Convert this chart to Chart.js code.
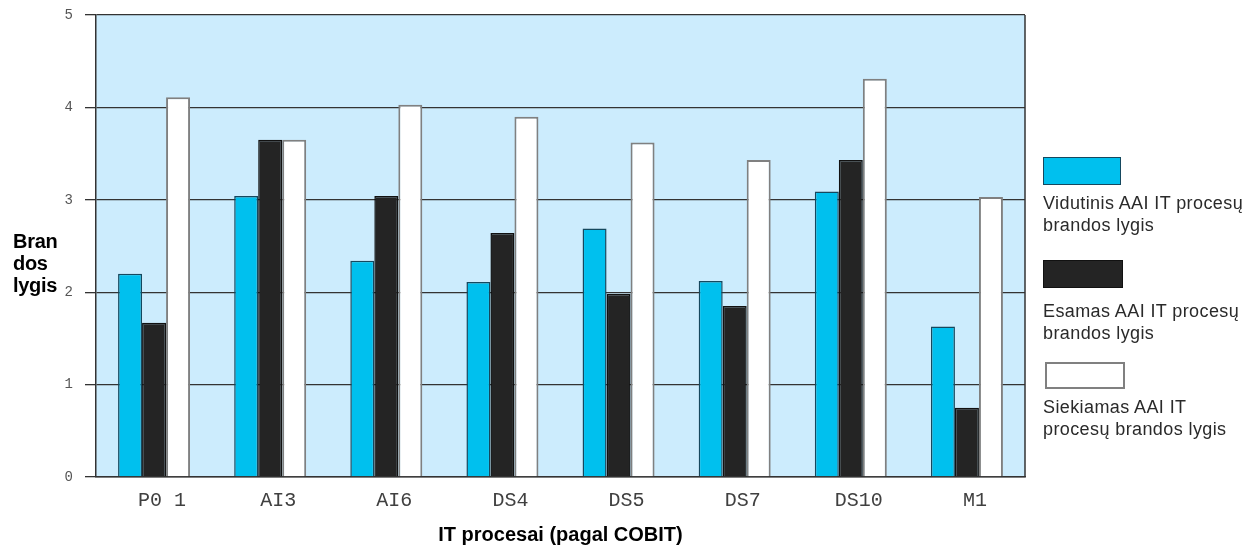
<!DOCTYPE html>
<html><head><meta charset="utf-8">
<script src="https://cdn.jsdelivr.net/npm/chart.js@4"></script>
<style>
html,body{margin:0;padding:0;background:#fff;}
#wrap{position:relative;width:1250px;height:547px;overflow:hidden;}
canvas{position:absolute;left:0;top:0;}
#ytitle{position:absolute;left:13px;top:230px;font:bold 20px "Liberation Sans",Arial,sans-serif;line-height:22px;color:#000;letter-spacing:-0.3px;}
#legend{position:absolute;left:0;top:0;font:18px "Liberation Sans",Arial,sans-serif;color:#2a2a2a;letter-spacing:0.4px;}
.box{position:absolute;box-sizing:border-box;}
.txt{position:absolute;line-height:22px;white-space:nowrap;}
</style></head>
<body>
<div id="wrap">
<canvas id="c" width="1250" height="547"></canvas>
<div id="ytitle">Bran<br>dos<br>lygis</div>
<div id="legend"></div>
</div>
<script>
const categories = ["P0 1","AI3","AI6","DS4","DS5","DS7","DS10","M1"];
const vidutinis = [2.20,3.04,2.34,2.11,2.69,2.12,3.09,1.63];
const esamas    = [1.67,3.65,3.04,2.64,1.98,1.85,3.43,0.75];
const siekiamas = [4.11,3.65,4.03,3.90,3.62,3.43,4.31,3.03];
const yTicks = [0,1,2,3,4,5];
const seriesLabels = [
  ["Vidutinis AAI IT procesų","brandos lygis"],
  ["Esamas AAI IT procesų","brandos lygis"],
  ["Siekiamas AAI IT","procesų brandos lygis"]
];
const xTitle = "IT procesai (pagal COBIT)";

const plotBg = {
  id:'plotBg',
  beforeDraw(chart){
    const {ctx, chartArea:a} = chart;
    ctx.save();
    ctx.fillStyle = '#ccecfd';
    ctx.fillRect(a.left, a.top, a.right-a.left, a.bottom-a.top);
    ctx.restore();
  },
  afterDraw(chart){
    const {ctx, chartArea:a} = chart;
    ctx.save();
    ctx.strokeStyle = '#333';
    ctx.lineWidth = 1.5;
    ctx.beginPath();
    ctx.moveTo(a.right, a.top);
    ctx.lineTo(a.right, a.bottom);
    ctx.stroke();
    ctx.restore();
  }
};

const chart = new Chart(document.getElementById('c'), {
  type:'bar',
  data:{
    labels:categories,
    datasets:[
      {label:seriesLabels[0].join(' '), data:vidutinis, backgroundColor:'#00c0ee', borderColor:'#15485e', borderWidth:1.5, categoryPercentage:0.62, barPercentage:1.0},
      {label:seriesLabels[1].join(' '), data:esamas, backgroundColor:'#242424', borderColor:'#111', borderWidth:1.5, categoryPercentage:0.62, barPercentage:1.0},
      {label:seriesLabels[2].join(' '), data:siekiamas, backgroundColor:'#ffffff', borderColor:'#808080', borderWidth:2, categoryPercentage:0.62, barPercentage:1.0}
    ]
  },
  options:{
    responsive:false,
    animation:false,
    layout:{padding:{left:0, top:15, right:225, bottom:0}},
    plugins:{legend:{display:false}, tooltip:{enabled:false}},
    scales:{
      x:{
        grid:{display:false, drawTicks:false},
        border:{display:true, color:'#333', width:1.5},
        ticks:{font:{family:'"Liberation Mono", "Courier New", monospace', size:20}, color:'#404040', padding:12, maxRotation:0, labelOffset:8},
        title:{display:true, text:xTitle, font:{family:'"Liberation Sans", Arial, sans-serif', size:20, weight:'bold'}, color:'#000', padding:{top:0,bottom:0}},
        afterFit(s){ s.height = 70; s.paddingLeft = 0; s.paddingRight = 0; }
      },
      y:{
        min:0, max:5,
        afterBuildTicks(s){ s.ticks = yTicks.map(v=>({value:v})); },
        grid:{color:'#333', lineWidth:1.3, tickLength:11, tickColor:'#333'},
        border:{display:true, color:'#333', width:1.5},
        ticks:{font:{family:'"Liberation Mono", "Courier New", monospace', size:14}, color:'#555', padding:12},
        afterFit(s){ s.width = 96; s.paddingTop = 0; s.paddingBottom = 0; }
      }
    }
  },
  plugins:[plotBg]
});

// HTML legend built from datasets
const leg = document.getElementById('legend');
const boxes = [[1043,157,78,28],[1043,260,80,28],[1045,362,80,27]];
const textTops = [192,300,396];
chart.data.datasets.forEach((ds,i)=>{
  const b = document.createElement('div');
  b.className='box';
  const [bx,by,bw,bh] = boxes[i];
  b.style.left=bx+'px'; b.style.top=by+'px'; b.style.width=bw+'px'; b.style.height=bh+'px';
  b.style.background = ds.backgroundColor;
  b.style.border = (i===2?2:1)+'px solid '+ds.borderColor;
  leg.appendChild(b);
  const t = document.createElement('div');
  t.className='txt';
  t.style.left='1043px'; t.style.top=textTops[i]+'px';
  t.innerHTML = seriesLabels[i].join('<br>');
  leg.appendChild(t);
});
</script>
</body></html>
